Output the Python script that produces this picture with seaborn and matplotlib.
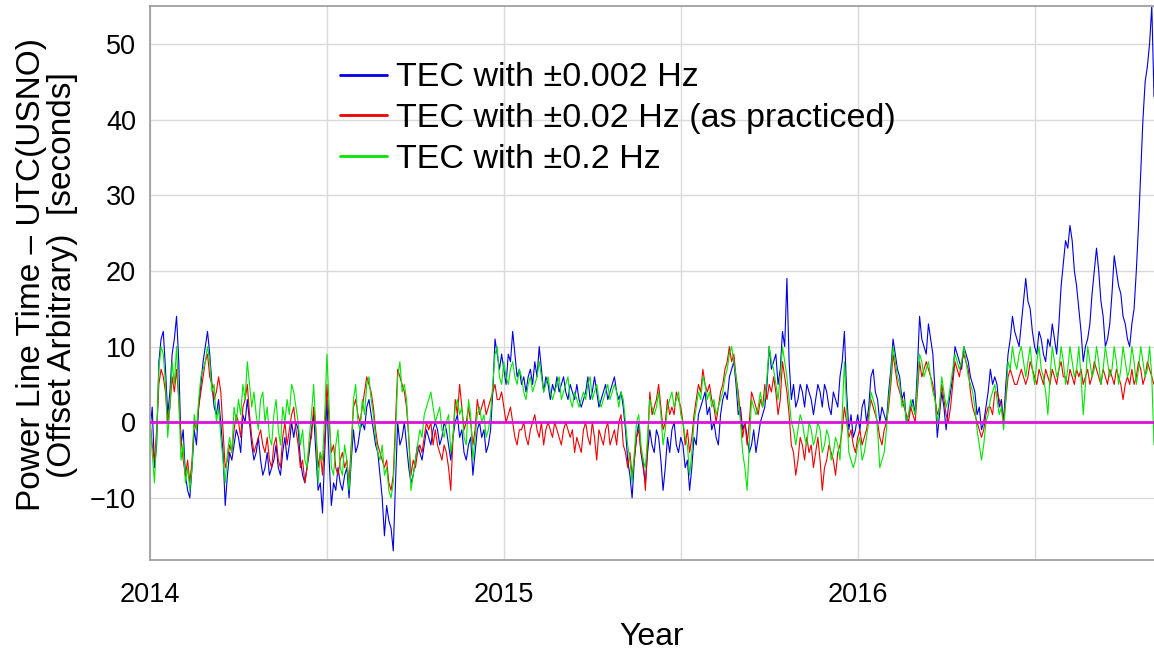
import numpy as np
import pandas as pd
import seaborn as sns
import matplotlib
matplotlib.use("Agg")
import matplotlib.pyplot as plt

# traces: one value every 1/80 year from 2014.0,
# plus the value half-way between each pair (the *_mid lists)
start_year = 2014.0
step = 1 / 80

# TEC with +-0.002 Hz (blue)
tec_0002 = [
    -1, -6, 8, 12, 1, 9, 14, -3, -7, -10,
    -1, 2, 8, 12, 5, 1, 0, -11, -4, -3,
    -2, 1, 3, -3, -4, -5, -6, -7, -5, -6,
    -4, -5, 0, 0, -5, -8, -4, 1, -9, -12,
    3, -11, -9, -8, -7, -10, -1, -3, 0, 2,
    1, -3, -7, -15, -13, -17, 0, -2, -3, -8,
    -5, -4, -3, -2, -1, -1, -2, -1, -5, 0,
    -2, -4, -3, -7, -1, -2, -4, -1, 11, 7,
    7, 9, 12, 6, 5, 4, 7, 8, 10, 4,
    5, 5, 6, 5, 4, 5, 3, 3, 3, 6,
    4, 4, 3, 5, 4, 6, 3, 2, -5, -10,
    -2, -4, -8, -1, -4, -2, -9, -2, -1, -3,
    -2, -6, -9, -2, 1, 3, 1, -1, -2, 1,
    4, 6, 8, 1, -1, -2, -3, -4, 0, 2,
    10, 8, 5, 12, 19, 3, 2, 5, 2, 4,
    1, 5, 2, 4, 1, 3, 6, 12, -1, -2,
    1, 2, 0, 6, 4, 0, 1, 4, 11, 7,
    3, 0, 2, 1, 14, 10, 13, 9, -2, 4,
    -1, 4, 10, 8, 10, 8, 5, 1, -1, 2,
    7, 6, 2, 0, 9, 14, 11, 13, 19, 15,
    10, 12, 9, 11, 13, 9, 18, 24, 26, 20,
    15, 8, 11, 17, 23, 16, 10, 13, 22, 18,
    14, 11, 13, 20, 33, 45, 50, 43,
]
tec_0002_mid = [
    2, -3, 11, 7, 4, 11, 8, -1, -9, -6,
    -3, 5, 10, 9, 2, 3, -4, -7, -5, -1,
    -4, 0, 0, -5, -2, -7, -4, -6, -3, -7,
    -2, -3, -2, -1, -7, -6, -1, -4, -8, -4,
    -5, -8, -6, -9, -6, -5, -4, -1, -1, 3,
    -1, -4, -10, -11, -14, -8, -3, 0, -6, -7,
    -3, -5, -1, -3, 0, -3, 0, -3, -2, 1,
    -1, -5, -2, -4, 0, -1, -3, 4, 9, 9,
    5, 8, 9, 7, 6, 6, 5, 6, 7, 6,
    3, 4, 4, 6, 3, 4, 5, 2, 4, 3,
    6, 2, 4, 3, 5, 4, 4, -1, -7, -5,
    0, -6, -4, -3, -1, -5, -6, -4, 0, -4,
    -3, -5, -6, -3, 2, 4, 2, 0, -3, 3,
    3, 7, 5, 2, 0, -4, -1, -2, 1, 5,
    7, 9, 7, 10, 8, 5, 3, 4, 5, 3,
    3, 4, 5, 2, 4, 2, 8, 4, 1, -1,
    -1, 3, 2, 7, 3, 2, 0, 7, 9, 6,
    4, 1, 3, 7, 11, 9, 11, 4, 1, 2,
    2, 6, 9, 7, 9, 6, 4, 2, 0, 4,
    5, 5, 3, 5, 11, 12, 10, 16, 16, 12,
    9, 11, 8, 10, 11, 13, 21, 23, 24, 18,
    12, 10, 13, 20, 20, 14, 11, 17, 20, 17,
    13, 10, 15, 26, 40, 47, 55,
]

# TEC with +-0.02 Hz, as practiced (red)
tec_002 = [
    0, -5, 5, 6, 0, 6, 7, -2, -7, -8,
    0, 2, 6, 9, 5, 4, 4, -6, -3, -1,
    0, 2, 5, -2, -3, -1, -4, -5, -3, -5,
    -2, -3, 1, -1, -6, -8, -3, 2, -6, -7,
    5, -4, -6, -5, -6, -8, 2, 1, 2, 6,
    4, -1, -4, -6, -8, -7, 7, 5, 2, -7,
    -6, -3, -2, -1, -3, -3, -5, -4, -9, 3,
    5, -1, 2, -3, 3, 2, 1, 3, 5, 3,
    2, 1, 0, -3, -1, -2, -1, 1, -2, -3,
    0, -2, -1, -3, 0, -2, -4, -3, -1, -2,
    0, -5, -2, -1, -3, -1, 0, -3, -6, -7,
    -2, -4, -9, 4, 2, 5, -1, 3, 2, 4,
    2, -3, -4, 1, 5, 7, 4, 3, 0, 4,
    7, 10, 9, 4, -2, -3, 4, 2, 3, 5,
    5, 6, 1, 8, 4, -3, -7, -2, -5, -4,
    -6, -2, -9, -5, -4, -7, -3, 2, -2, -3,
    -2, -3, -1, 3, 1, -2, -1, 2, 9, 5,
    3, 1, 2, 0, 8, 7, 7, 5, 1, 5,
    1, 2, 8, 6, 9, 7, 2, 0, -2, 1,
    2, 4, 3, 0, 6, 6, 5, 7, 5, 8,
    6, 7, 5, 6, 7, 5, 8, 6, 7, 5,
    6, 5, 7, 6, 7, 5, 6, 7, 5, 6,
    3, 6, 7, 6, 7, 6, 7, 5,
]
tec_002_mid = [
    -3, -1, 7, 4, 2, 4, 3, -5, -5, -5,
    -1, 4, 8, 6, 3, 6, -1, -5, -4, 1,
    -2, 3, 1, -4, -2, -3, -2, -6, -2, -6,
    0, -1, 2, -3, -5, -6, -2, -1, -4, -2,
    0, -3, -7, -4, -5, -3, 3, 0, 4, 5,
    2, -3, -5, -5, -9, 0, 6, 4, -2, -5,
    -4, -4, 0, 0, -1, -4, -3, -6, -2, 1,
    2, 0, 0, -1, 1, 3, 2, 4, 3, 4,
    0, 2, -2, -1, 0, -3, 0, -1, 0, -1,
    -1, 0, -2, -1, -1, -1, -2, -4, 0, -3,
    -2, -1, -3, 0, -2, -3, 1, -4, -4, -5,
    -1, -5, -3, 1, 3, 2, 0, 1, 1, 3,
    0, -1, -2, 3, 4, 5, 5, 2, 2, 5,
    8, 8, 6, 1, 0, 0, 3, 1, 2, 3,
    4, 4, 3, 6, 1, -4, -5, -3, -2, -3,
    -4, -5, -6, -3, -5, -4, -1, 0, -1, -4,
    -1, -2, 1, 2, 0, -3, 0, 5, 7, 4,
    2, 0, 1, 4, 6, 8, 6, 3, 2, 3,
    0, 5, 7, 8, 8, 4, 1, -1, -1, 2,
    1, 4, 2, 3, 7, 5, 6, 6, 6, 7,
    5, 6, 7, 5, 6, 7, 6, 5, 6, 7,
    7, 6, 5, 8, 6, 7, 5, 6, 7, 5,
    5, 5, 5, 8, 5, 8, 6,
]

# TEC with +-0.2 Hz (green)
tec_02 = [
    1, -8, 7, 9, -2, 8, 10, -5, -8, -9,
    1, 3, 7, 10, 4, 0, -2, -8, -2, 2,
    3, 5, 8, 2, 1, 3, 0, -2, 1, -1,
    2, 3, 5, 2, -3, -5, -2, 5, -8, -5,
    9, -6, -3, -6, -3, -9, 3, 0, 3, 5,
    3, -2, -5, -7, -9, -8, 6, 4, 3, -9,
    -5, -1, 1, 3, 2, 1, -1, 0, -4, 2,
    1, -2, 3, -5, 1, 0, -2, 1, 9, 6,
    8, 5, 8, 5, 6, 3, 6, 5, 8, 4,
    6, 3, 5, 3, 5, 3, 4, 2, 4, 5,
    3, 5, 2, 4, 3, 5, 2, 3, -3, -8,
    0, -3, -6, 3, 1, 4, -3, 2, 4, 3,
    1, -2, -7, 0, 4, 6, 3, 2, 1, 3,
    6, 9, 8, 3, -4, -9, 3, 1, 4, 3,
    10, 7, 3, 10, 6, 0, -3, 1, -2, 0,
    -3, 0, -4, -1, -5, -2, -5, 8, -4, -6,
    -3, -5, -2, 4, 2, -6, -4, 3, 10, 6,
    2, 0, 3, 1, 9, 6, 8, 4, 0, 6,
    2, 5, 9, 7, 10, 6, 4, -1, -5, 0,
    3, 5, 1, -1, 8, 10, 7, 10, 6, 10,
    5, 10, 6, 1, 10, 6, 10, 5, 10, 6,
    10, 1, 10, 6, 10, 5, 10, 6, 10, 5,
    10, 6, 10, 5, 10, 6, 10, -3,
]
tec_02_mid = [
    -4, -2, 10, 5, 2, 5, 3, -3, -6, -6,
    -1, 6, 8, 8, 5, 2, -5, -4, -4, 0,
    1, 3, 5, 4, -1, 4, 2, -3, 3, -3,
    0, 1, 4, 0, -1, -6, 1, -1, -4, 1,
    2, -7, -1, -7, -5, -4, 5, -1, 1, 6,
    1, -4, -3, -6, -10, -2, 8, 5, -2, -7,
    -3, -2, 2, 4, 0, 2, -2, 1, -2, 3,
    2, -3, 1, -2, 2, 1, -1, 5, 10, 5,
    6, 7, 6, 7, 4, 5, 4, 6, 6, 5,
    4, 4, 6, 4, 6, 2, 3, 3, 3, 6,
    4, 3, 3, 5, 4, 4, 4, 0, -5, -4,
    1, -5, -2, 2, 2, 1, -1, 3, 2, 4,
    0, -3, -4, 2, 3, 5, 4, 3, 2, 4,
    7, 10, 6, 0, -6, -3, 2, 2, 2, 6,
    8, 5, 6, 8, 3, -1, -1, 0, -3, -1,
    -2, -1, -3, -2, -4, -3, 1, 2, -5, -5,
    -2, -4, 0, 3, -1, -5, -1, 6, 8, 5,
    3, 1, 2, 5, 8, 7, 6, 3, 2, 4,
    3, 7, 8, 8, 8, 5, 2, -3, -3, 1,
    4, 3, 2, 3, 7, 8, 9, 8, 8, 7,
    8, 7, 4, 6, 8, 7, 8, 7, 8, 7,
    6, 5, 8, 7, 8, 7, 8, 7, 8, 7,
    8, 7, 8, 7, 8, 7, 6,
]

series_labels = ["TEC with ±0.002 Hz", "TEC with ±0.02 Hz (as practiced)", "TEC with ±0.2 Hz"]
series_colors = ["#0000e0", "#ee0000", "#00e600"]


def merge(main, mid):
    # put each half-way reading between its two neighbours
    out = np.empty(len(main) + len(mid))
    out[0::2] = main
    out[1::2] = mid
    return out


n = 2 * len(tec_0002) - 1
year = start_year + (step / 2) * np.arange(n)
df = pd.DataFrame({
    "year": year,
    "b": merge(tec_0002, tec_0002_mid),
    "r": merge(tec_002, tec_002_mid),
    "g": merge(tec_02, tec_02_mid),
})

sns.set_style("white")
plt.rcParams["font.family"] = ["Liberation Sans", "DejaVu Sans"]
plt.rcParams["text.color"] = "black"
plt.rcParams["axes.labelcolor"] = "black"
plt.rcParams["xtick.color"] = "black"
plt.rcParams["ytick.color"] = "black"

fig = plt.figure(figsize=(11.54, 6.51), dpi=100)
ax = fig.add_axes([0.13, 0.1398, 0.87, 0.851])

for col, lab, c in zip(["b", "r", "g"], series_labels, series_colors):
    sns.lineplot(data=df, x="year", y=col, color=c, lw=0.8, label=lab,
                 estimator=None, ax=ax)

ax.axhline(0, color="#dd11dd", lw=2, zorder=5)

ax.set_xlim(2014, 2016 + 67 / 80)
ax.set_ylim(-18.2, 55)
ax.set_xticks([2014, 2015, 2016])
ax.set_xticklabels(["2014", "2015", "2016"])
ax.set_xticks([2014.5, 2015.5, 2016.5], minor=True)
ax.set_yticks([-10, 0, 10, 20, 30, 40, 50])
ax.grid(True, which="both", color="#dadada", lw=1)
ax.set_axisbelow(True)
ax.tick_params(axis="both", which="both", length=0, labelsize=19.5, labelcolor="black")
ax.tick_params(axis="y", pad=10)
ax.tick_params(axis="x", pad=16)

for side in ["left", "bottom", "top"]:
    ax.spines[side].set_color("#a0a0a0")
    ax.spines[side].set_linewidth(1.3)
ax.spines["right"].set_visible(False)

ax.set_xlabel("Year", fontsize=23, labelpad=10, color="black")
ax.set_ylabel("Power Line Time – UTC(USNO)\n(Offset Arbitrary)  [seconds]",
              fontsize=24, linespacing=1.0, color="black")
ax.yaxis.set_label_coords(-0.072, 0.515)

leg = ax.legend(loc="upper left", bbox_to_anchor=(0.189, 0.898), frameon=False,
                fontsize=24.5, handlelength=1.4, handletextpad=0.25,
                labelspacing=0.28, borderpad=0, borderaxespad=0)
for line in leg.get_lines():
    line.set_linewidth(2)
for txt in leg.get_texts():
    txt.set_color("black")

fig.savefig("out.png", dpi=100)
